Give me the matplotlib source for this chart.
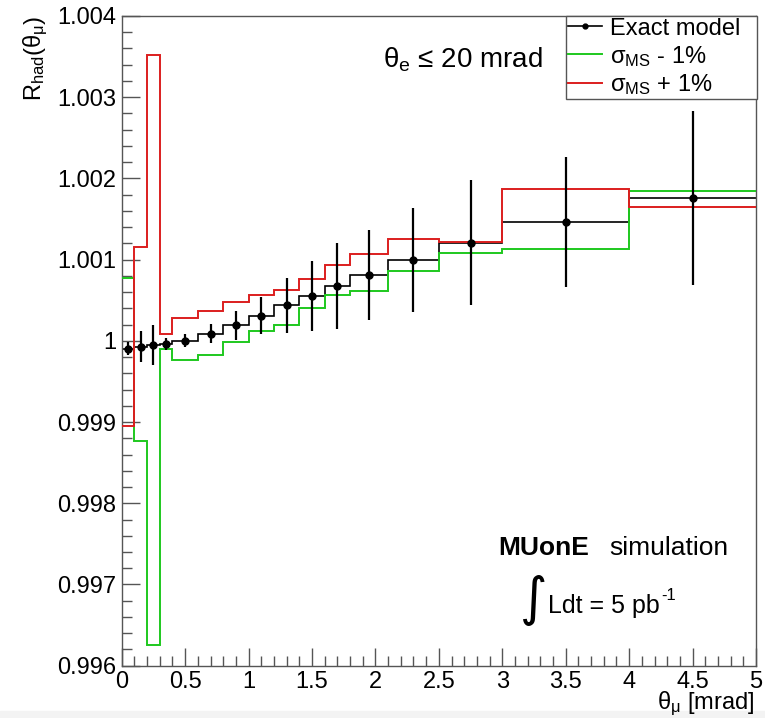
import numpy as np
import matplotlib
matplotlib.use('Agg')
import matplotlib.pyplot as plt
from matplotlib.lines import Line2D
from matplotlib.patches import Rectangle
from matplotlib.ticker import FixedLocator, FixedFormatter, MultipleLocator

plt.rcParams['font.family'] = ['Liberation Sans', 'DejaVu Sans']
plt.rcParams['mathtext.fontset'] = 'custom'
plt.rcParams['mathtext.rm'] = 'Liberation Sans'
plt.rcParams['mathtext.it'] = 'Liberation Sans:italic'
plt.rcParams['mathtext.bf'] = 'Liberation Sans:bold'

# bin edges of theta_mu [mrad]
bin_edges = [0, 0.1, 0.2, 0.3, 0.4, 0.6, 0.8, 1.0, 1.2, 1.4, 1.6, 1.8, 2.1, 2.5, 3.0, 4.0, 5.0]

# exact model, with stat. errors
exact = [0.99990, 0.99993, 0.99995, 0.99996, 1.00000, 1.00009, 1.00019, 1.00031,
         1.00044, 1.00055, 1.00067, 1.00081, 1.00100, 1.00121, 1.00146, 1.00176]
exact_err = [0.00008, 0.00019, 0.00025, 0.00007, 0.00008, 0.00012, 0.00018, 0.00023,
             0.00034, 0.00043, 0.00053, 0.00055, 0.00064, 0.00077, 0.00080, 0.00107]

# sigma_MS - 1%
ms_minus = [1.00078, 0.99877, 0.99626, 0.99990, 0.99976, 0.99983, 0.99998, 1.00012,
            1.00020, 1.00040, 1.00056, 1.00061, 1.00086, 1.00108, 1.00113, 1.00184]
# sigma_MS + 1%
ms_plus = [0.99895, 1.00116, 1.00352, 1.00008, 1.00028, 1.00037, 1.00048, 1.00057,
           1.00062, 1.00076, 1.00093, 1.00107, 1.00126, 1.00122, 1.00187, 1.00165]

xtick_vals = [0, 0.5, 1, 1.5, 2, 2.5, 3, 3.5, 4, 4.5, 5]
xtick_labels = ['0', '0.5', '1', '1.5', '2', '2.5', '3', '3.5', '4', '4.5', '5']
ytick_vals = [0.996, 0.997, 0.998, 0.999, 1.0, 1.001, 1.002, 1.003, 1.004]
ytick_labels = ['0.996', '0.997', '0.998', '0.999', '1', '1.001', '1.002', '1.003', '1.004']

W, H = 765, 718
def px(x, y):
    return x / W, 1 - y / H

fig = plt.figure(figsize=(W / 100, H / 100), dpi=100)
# faint grey strip along the bottom edge of the canvas
fig.patches.append(Rectangle(px(0, H), 1, 7 / H, transform=fig.transFigure,
                             color='#f3f3f3', zorder=-1))
ax = fig.add_axes([121.7 / W, 1 - 665.7 / H, (756 - 121.7) / W, (665.7 - 16) / H])

edges = np.array(bin_edges)
centers = 0.5 * (edges[1:] + edges[:-1])

green = '#1ec81e'
red = '#dc1e1e'

ax.stairs(exact, edges, baseline=None, color='black', lw=1.2, zorder=2)
ax.stairs(ms_minus, edges, baseline=None, color=green, lw=1.4, zorder=3)
ax.stairs(ms_plus, edges, baseline=None, color=red, lw=1.4, zorder=4)
ax.errorbar(centers, exact, yerr=exact_err, fmt='o', color='black', ms=5,
            elinewidth=1.6, capsize=0, zorder=5)

ax.set_xlim(0, 5)
ax.set_ylim(0.996, 1.004)
ax.xaxis.set_major_locator(FixedLocator(xtick_vals))
ax.xaxis.set_major_formatter(FixedFormatter(xtick_labels))
ax.yaxis.set_major_locator(FixedLocator(ytick_vals))
ax.yaxis.set_major_formatter(FixedFormatter(ytick_labels))
ax.xaxis.set_minor_locator(MultipleLocator(0.1))
ax.yaxis.set_minor_locator(MultipleLocator(0.0002))
ax.tick_params(which='both', direction='in', top=False, right=False,
               color='#555555', width=1, labelsize=17, labelcolor='black')
ax.tick_params(axis='y', which='both', pad=4)
ax.tick_params(axis='x', which='both', pad=3.5)
ax.tick_params(which='major', length=13)
ax.tick_params(which='minor', length=7)
for s in ax.spines.values():
    s.set_color('#555555')
    s.set_linewidth(1)

fig.text(*px(754, 709), r'θ$_{\mathrm{\mu}}$ [mrad]', fontsize=17, ha='right', va='baseline')
fig.text(*px(36, 16), r'R$_{\mathrm{had}}$(θ$_{\mathrm{\mu}}$)', fontsize=17,
         rotation=90, ha='center', va='top')

fig.text(*px(463, 67), r'θ$_{\mathrm{e}}$ ≤ 20 mrad', fontsize=20, ha='center', va='baseline')
fig.text(*px(498, 555), 'MUonE', fontsize=19, fontweight='bold', ha='left', va='baseline')
fig.text(*px(728, 555), 'simulation', fontsize=19, ha='right', va='baseline')
fig.text(*px(534, 600), '∫', fontsize=38, family='DejaVu Sans', ha='center', va='center')
lum = fig.text(*px(548, 613), 'Ldt = 5 pb', fontsize=18, ha='left', va='baseline')
r = fig.canvas.get_renderer()
bb = lum.get_window_extent(renderer=r)
fig.text(bb.x1 / W + 1 / W, px(0, 600)[1], '-1', fontsize=12, ha='left', va='baseline')

handles = [
    Line2D([], [], color='black', lw=1.2, marker='o', ms=3.5),
    Line2D([], [], color=green, lw=1.4),
    Line2D([], [], color=red, lw=1.4),
]
labels = ['Exact model', r'σ$_{\mathrm{MS}}$ - 1%', r'σ$_{\mathrm{MS}}$ + 1%']
x0 = (566 - 121.7) / 634.3
leg = ax.legend(handles, labels, loc='upper left', mode='expand',
                bbox_to_anchor=(x0, 0.5, 1.0015 - x0, 0.5), fontsize=17, frameon=True,
                fancybox=False, edgecolor='#555555', framealpha=1, borderaxespad=0,
                borderpad=0.07, handlelength=1.45, handletextpad=0.35, labelspacing=0.17)
leg.get_frame().set_linewidth(1)

fig.savefig('out.png', dpi=100)
